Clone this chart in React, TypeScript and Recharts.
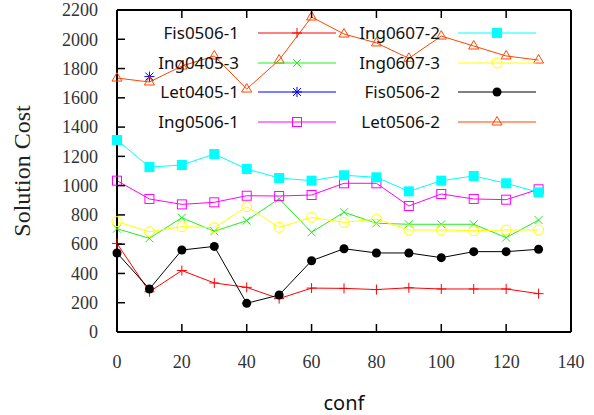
import React from 'react';
import { LineChart, Line, XAxis, YAxis } from 'recharts';

const CONF = [0, 10, 20, 30, 40, 50, 60, 70, 80, 90, 100, 110, 120, 130];

const FIS0506_1 = [605, 275, 420, 335, 305, 228, 300, 298, 290, 302, 294, 294, 294, 262];
const ING0405_3 = [706, 640, 781, 688, 761, 911, 681, 818, 743, 736, 736, 736, 645, 765];
const LET0405_1 = [null, 1745, null, null, null, null, null, null, null, null, null, null, null, null];
const ING0506_1 = [1034, 909, 872, 886, 931, 929, 936, 1016, 1016, 861, 943, 909, 904, 975];
const ING0607_2 = [1312, 1127, 1141, 1216, 1114, 1052, 1034, 1071, 1057, 961, 1034, 1066, 1016, 954];
const ING0607_3 = [754, 685, 720, 713, 856, 715, 783, 749, 772, 697, 697, 692, 697, 697];
const FIS0506_2 = [540, 294, 560, 585, 196, 253, 487, 569, 540, 540, 508, 549, 549, 565];
const LET0506_2 = [1735, 1708, 1817, 1886, 1660, 1858, 2152, 2036, 1975, 1870, 2022, 1954, 1886, 1858];

const X_TICKS = [0, 20, 40, 60, 80, 100, 120, 140];
const Y_TICKS = [0, 200, 400, 600, 800, 1000, 1200, 1400, 1600, 1800, 2000, 2200];

const data = CONF.map((c, i) => ({
  conf: c,
  fis1: FIS0506_1[i],
  ing3: ING0405_3[i],
  let1: LET0405_1[i],
  ing1: ING0506_1[i],
  ing2: ING0607_2[i],
  ing73: ING0607_3[i],
  fis2: FIS0506_2[i],
  let2: LET0506_2[i],
}));

type Shape = 'plus' | 'cross' | 'star' | 'osquare' | 'fsquare' | 'ocircle' | 'fcircle' | 'otriangle';

const SERIES: { key: string; name: string; color: string; shape: Shape }[] = [
  { key: 'fis1', name: 'Fis0506-1', color: '#ff0000', shape: 'plus' },
  { key: 'ing3', name: 'Ing0405-3', color: '#22ee22', shape: 'cross' },
  { key: 'let1', name: 'Let0405-1', color: '#0000ff', shape: 'star' },
  { key: 'ing1', name: 'Ing0506-1', color: '#ff00ff', shape: 'osquare' },
  { key: 'ing2', name: 'Ing0607-2', color: '#00ffff', shape: 'fsquare' },
  { key: 'ing73', name: 'Ing0607-3', color: '#ffff00', shape: 'ocircle' },
  { key: 'fis2', name: 'Fis0506-2', color: '#000000', shape: 'fcircle' },
  { key: 'let2', name: 'Let0506-2', color: '#ff4500', shape: 'otriangle' },
];

const marker = (shape: Shape, cx: number, cy: number, color: string, key?: any) => {
  switch (shape) {
    case 'plus':
      return <path key={key} d={`M${cx - 5},${cy}H${cx + 5}M${cx},${cy - 5}V${cy + 5}`} stroke={color} strokeWidth={1} fill="none" />;
    case 'cross':
      return <path key={key} d={`M${cx - 4},${cy - 4}L${cx + 4},${cy + 4}M${cx - 4},${cy + 4}L${cx + 4},${cy - 4}`} stroke={color} strokeWidth={1} fill="none" />;
    case 'star':
      return (
        <path
          key={key}
          d={`M${cx - 5},${cy}H${cx + 5}M${cx},${cy - 5}V${cy + 5}M${cx - 4},${cy - 4}L${cx + 4},${cy + 4}M${cx - 4},${cy + 4}L${cx + 4},${cy - 4}`}
          stroke={color}
          strokeWidth={1}
          fill="none"
        />
      );
    case 'osquare':
      return <rect key={key} x={cx - 4.5} y={cy - 4.5} width={9} height={9} stroke={color} strokeWidth={1} fill="none" />;
    case 'fsquare':
      return <rect key={key} x={cx - 5} y={cy - 5} width={10} height={10} fill={color} stroke="none" />;
    case 'ocircle':
      return <circle key={key} cx={cx} cy={cy} r={5} stroke={color} strokeWidth={1} fill="none" />;
    case 'fcircle':
      return <circle key={key} cx={cx} cy={cy} r={4.5} fill={color} stroke="none" />;
    case 'otriangle':
      return <path key={key} d={`M${cx},${cy - 5.5}L${cx + 5},${cy + 3}L${cx - 5},${cy + 3}Z`} stroke={color} strokeWidth={1} fill="none" />;
  }
};

const SERIF = '"Liberation Serif", serif';
const SANS = '"Noto Sans", sans-serif';

const BottomTick = (props: any) => {
  const { x, y, payload } = props;
  return (
    <g>
      <line x1={x} x2={x} y1={y} y2={y - 8} stroke="#000" strokeWidth={1.5} />
      <text x={x} y={y + 30} dy="0.35em" textAnchor="middle" fontFamily={SERIF} fontSize={18} fill="#333">
        {payload.value}
      </text>
    </g>
  );
};

const TopTick = (props: any) => {
  const { x, y } = props;
  return <line x1={x} x2={x} y1={y} y2={y + 8} stroke="#000" strokeWidth={1.5} />;
};

const LeftTick = (props: any) => {
  const { x, y, payload } = props;
  return (
    <g>
      <line x1={x} x2={x + 8} y1={y} y2={y} stroke="#000" strokeWidth={1.5} />
      <text x={x - 19} y={y} dy="0.35em" textAnchor="end" fontFamily={SERIF} fontSize={18} fill="#333">
        {payload.value}
      </text>
    </g>
  );
};

const RightTick = (props: any) => {
  const { x, y } = props;
  return <line x1={x} x2={x - 8} y1={y} y2={y} stroke="#000" strokeWidth={1.5} />;
};

const LEGEND_ROWS = [33, 63, 92, 122];
const LEGEND_COLS = [
  { textRight: 239, x1: 258, x2: 336, mark: 297 },
  { textRight: 440, x1: 458, x2: 536, mark: 497 },
];

const Overlay = () => (
  <svg width={594} height={415} style={{ position: 'absolute', left: 0, top: 0, pointerEvents: 'none' }}>
    {SERIES.map((s, i) => {
      const col = LEGEND_COLS[Math.floor(i / 4)];
      const y = LEGEND_ROWS[i % 4];
      return (
        <g key={s.key}>
          <text x={col.textRight} y={y} dy="0.35em" textAnchor="end" fontFamily={SANS} fontSize={17} fill="#111">
            {s.name}
          </text>
          <line x1={col.x1} x2={col.x2} y1={y} y2={y} stroke={s.color} strokeWidth={1} />
          {marker(s.shape, col.mark, y, s.color)}
        </g>
      );
    })}
    <text
      x={22}
      y={171}
      transform="rotate(-90 22 171)"
      dy="0.35em"
      textAnchor="middle"
      fontFamily={SERIF}
      fontSize={24}
      fill="#222"
    >
      Solution Cost
    </text>
    <text x={344} y={403} dy="0.35em" textAnchor="middle" fontFamily={SANS} fontSize={20} fill="#111">
      conf
    </text>
  </svg>
);

export default function App() {
  return (
    <div style={{ position: 'absolute', left: 0, top: 0, width: 594, height: 415, background: '#fff' }}>
      <LineChart width={594} height={415} data={data} margin={{ top: 0, right: 0, bottom: 0, left: 0 }}>
        <XAxis
          dataKey="conf"
          type="number"
          domain={[0, 140]}
          ticks={X_TICKS}
          height={83}
          tickSize={0}
          tickMargin={0}
          tick={<BottomTick />}
          axisLine={{ stroke: '#000', strokeWidth: 2 }}
          interval={0}
        />
        <XAxis
          xAxisId="top"
          orientation="top"
          dataKey="conf"
          type="number"
          domain={[0, 140]}
          ticks={X_TICKS}
          height={10}
          tickSize={0}
          tickMargin={0}
          tick={<TopTick />}
          axisLine={{ stroke: '#000', strokeWidth: 2 }}
          interval={0}
        />
        <YAxis
          type="number"
          domain={[0, 2200]}
          ticks={Y_TICKS}
          width={117}
          tickSize={0}
          tickMargin={0}
          tick={<LeftTick />}
          axisLine={{ stroke: '#000', strokeWidth: 2 }}
          interval={0}
        />
        <YAxis
          yAxisId="right"
          orientation="right"
          type="number"
          domain={[0, 2200]}
          ticks={Y_TICKS}
          width={23}
          tickSize={0}
          tickMargin={0}
          tick={<RightTick />}
          axisLine={{ stroke: '#000', strokeWidth: 2 }}
          interval={0}
        />
        {SERIES.map((s) => (
          <Line
            key={s.key}
            dataKey={s.key}
            name={s.name}
            stroke={s.color}
            strokeWidth={1}
            isAnimationActive={false}
            dot={(p: any) =>
              p.value == null || p.cy == null ? <g key={`${s.key}-${p.index}`} /> : marker(s.shape, p.cx, p.cy, s.color, `${s.key}-${p.index}`)
            }
            activeDot={false}
          />
        ))}
      </LineChart>
      <Overlay />
    </div>
  );
}
